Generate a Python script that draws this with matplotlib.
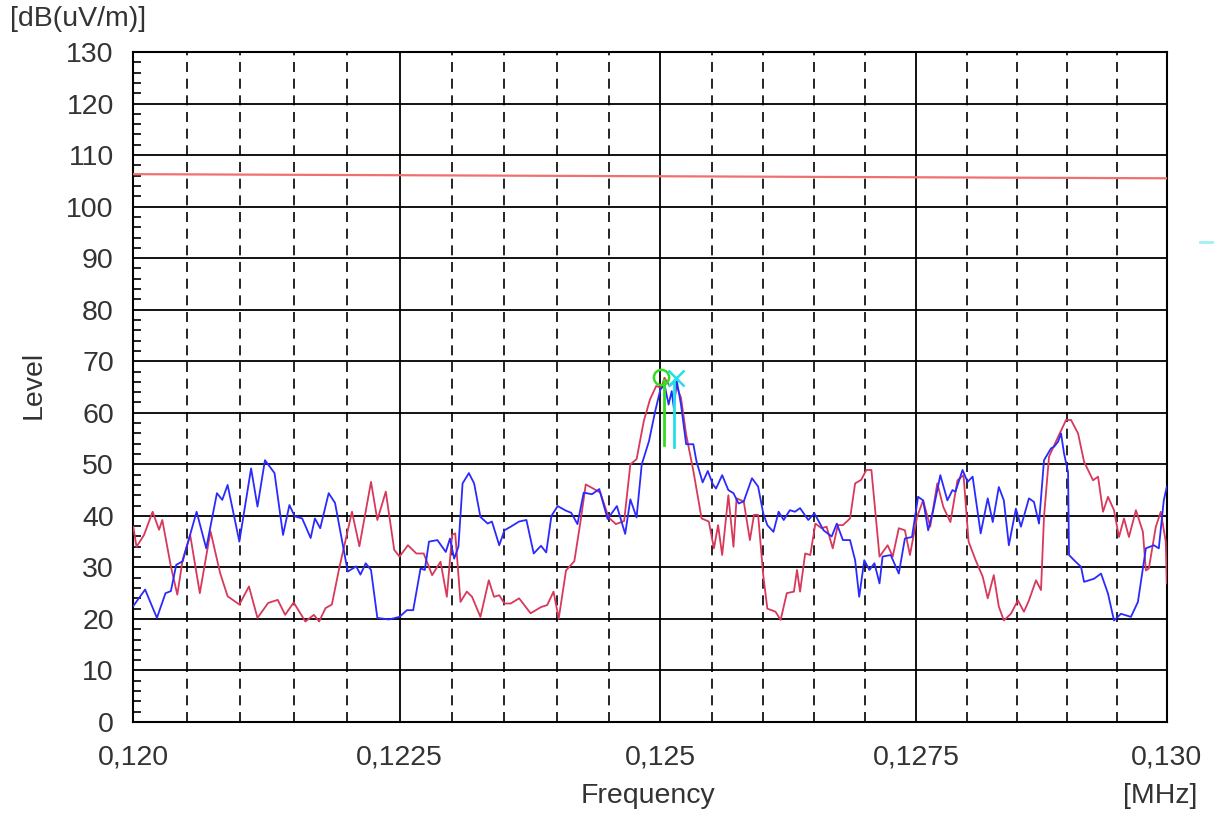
import matplotlib.pyplot as plt
from matplotlib.ticker import FixedLocator, NullFormatter
from matplotlib.lines import Line2D

# scan traces (MHz, dB(uV/m))
blue_freq = [0.12000, 0.12011, 0.12022, 0.12030, 0.12035, 0.12040, 0.12046, 0.12059, 0.12068, 0.12078,
             0.12083, 0.12088, 0.12099, 0.12110, 0.12116, 0.12123, 0.12132, 0.12140, 0.12146, 0.12151,
             0.12158, 0.12166, 0.12170, 0.12175, 0.12183, 0.12189, 0.12201, 0.12209, 0.12213, 0.12218,
             0.12223, 0.12229, 0.12240, 0.12250, 0.12257, 0.12263, 0.12270, 0.12274, 0.12278, 0.12286,
             0.12294, 0.12298, 0.12302, 0.12306, 0.12310, 0.12316, 0.12321, 0.12327, 0.12334, 0.12338,
             0.12345, 0.12350, 0.12356, 0.12364, 0.12371, 0.12378, 0.12385, 0.12390, 0.12395, 0.12401,
             0.12409, 0.12414, 0.12420, 0.12426, 0.12434, 0.12441, 0.12449, 0.12458, 0.12466, 0.12471,
             0.12477, 0.12482, 0.12489, 0.12495, 0.12500, 0.12504, 0.12508, 0.12511, 0.12513, 0.12516,
             0.12520, 0.12525, 0.12532, 0.12535, 0.12541, 0.12546, 0.12551, 0.12554, 0.12560, 0.12566,
             0.12571, 0.12576, 0.12581, 0.12589, 0.12595, 0.12600, 0.12604, 0.12610, 0.12615, 0.12620,
             0.12626, 0.12631, 0.12636, 0.12644, 0.12650, 0.12659, 0.12667, 0.12672, 0.12678, 0.12685,
             0.12690, 0.12694, 0.12699, 0.12704, 0.12709, 0.12714, 0.12717, 0.12725, 0.12733, 0.12739,
             0.12746, 0.12752, 0.12757, 0.12762, 0.12767, 0.12774, 0.12781, 0.12786, 0.12789, 0.12796,
             0.12801, 0.12806, 0.12814, 0.12821, 0.12826, 0.12832, 0.12837, 0.12842, 0.12849, 0.12854,
             0.12862, 0.12867, 0.12872, 0.12877, 0.12884, 0.12887, 0.12891, 0.12894, 0.12897, 0.12901,
             0.12902, 0.12907, 0.12914, 0.12917, 0.12927, 0.12934, 0.12941, 0.12947, 0.12954, 0.12964,
             0.12971, 0.12979, 0.12987, 0.12992, 0.12997, 0.13000]
blue_level = [22.5, 25.7, 20.2, 25.0, 25.4, 30.5, 31.2, 40.8, 33.7, 44.4,
              43.1, 46.0, 35.0, 49.2, 41.8, 50.8, 48.3, 36.3, 42.1, 39.9,
              39.5, 35.7, 39.5, 37.6, 44.4, 42.5, 29.2, 30.2, 28.6, 30.8,
              29.5, 20.2, 19.9, 20.4, 21.7, 21.7, 29.8, 29.5, 35.0, 35.3,
              33.0, 35.6, 31.7, 34.0, 46.3, 48.3, 46.3, 39.8, 38.5, 38.9,
              34.3, 37.2, 37.9, 38.9, 39.2, 32.7, 34.2, 32.9, 40.0, 41.9,
              41.0, 40.6, 38.4, 44.5, 44.2, 45.2, 39.4, 41.9, 36.5, 43.2,
              39.7, 50.0, 54.5, 60.3, 64.5, 65.5, 61.6, 64.2, 61.0, 66.1,
              61.6, 53.9, 53.9, 50.6, 46.5, 48.7, 46.1, 45.3, 47.9, 45.0,
              44.4, 42.4, 42.8, 47.3, 45.7, 40.5, 38.2, 36.9, 40.8, 39.2,
              41.1, 40.8, 41.5, 39.2, 40.5, 37.2, 36.0, 38.5, 35.3, 35.3,
              31.4, 24.3, 31.4, 29.5, 30.8, 26.9, 32.1, 32.4, 28.8, 35.6,
              35.9, 43.7, 43.0, 37.2, 41.1, 47.9, 43.0, 45.0, 44.7, 48.9,
              46.6, 47.6, 36.6, 43.4, 38.8, 45.6, 43.0, 34.3, 41.4, 37.9,
              43.4, 42.7, 38.5, 50.8, 53.1, 53.4, 54.4, 56.0, 52.1, 48.5,
              32.4, 31.4, 30.1, 27.2, 27.8, 28.8, 24.9, 19.7, 21.0, 20.4,
              23.3, 33.7, 34.3, 33.7, 43.0, 45.6]

red_freq = [0.12000, 0.12003, 0.12010, 0.12018, 0.12024, 0.12027, 0.12035, 0.12041, 0.12046, 0.12053,
            0.12062, 0.12072, 0.12081, 0.12088, 0.12099, 0.12108, 0.12116, 0.12126, 0.12135, 0.12142,
            0.12150, 0.12161, 0.12169, 0.12174, 0.12180, 0.12186, 0.12193, 0.12205, 0.12212, 0.12223,
            0.12229, 0.12237, 0.12245, 0.12250, 0.12258, 0.12266, 0.12273, 0.12281, 0.12289, 0.12295,
            0.12300, 0.12303, 0.12308, 0.12314, 0.12319, 0.12327, 0.12335, 0.12340, 0.12345, 0.12350,
            0.12356, 0.12364, 0.12375, 0.12385, 0.12391, 0.12397, 0.12402, 0.12409, 0.12417, 0.12423,
            0.12428, 0.12436, 0.12442, 0.12450, 0.12457, 0.12465, 0.12471, 0.12477, 0.12484, 0.12490,
            0.12496, 0.12501, 0.12504, 0.12509, 0.12514, 0.12520, 0.12525, 0.12532, 0.12540, 0.12547,
            0.12552, 0.12556, 0.12560, 0.12566, 0.12571, 0.12574, 0.12581, 0.12587, 0.12591, 0.12595,
            0.12600, 0.12604, 0.12612, 0.12617, 0.12623, 0.12630, 0.12633, 0.12636, 0.12641, 0.12646,
            0.12651, 0.12657, 0.12662, 0.12668, 0.12673, 0.12678, 0.12685, 0.12690, 0.12696, 0.12701,
            0.12706, 0.12714, 0.12722, 0.12727, 0.12733, 0.12739, 0.12744, 0.12751, 0.12757, 0.12764,
            0.12771, 0.12777, 0.12784, 0.12791, 0.12797, 0.12802, 0.12809, 0.12816, 0.12821, 0.12827,
            0.12832, 0.12837, 0.12844, 0.12851, 0.12857, 0.12862, 0.12869, 0.12874, 0.12877, 0.12882,
            0.12891, 0.12899, 0.12904, 0.12911, 0.12917, 0.12926, 0.12931, 0.12936, 0.12941, 0.12947,
            0.12952, 0.12957, 0.12962, 0.12969, 0.12976, 0.12979, 0.12982, 0.12989, 0.12994, 0.12999,
            0.13000]
red_level = [37.9, 34.0, 36.3, 40.8, 37.3, 39.2, 30.2, 24.7, 31.5, 36.3,
             25.0, 37.0, 28.9, 24.4, 22.8, 26.3, 20.2, 23.1, 23.7, 20.8,
             23.2, 19.5, 20.8, 19.5, 22.1, 22.8, 29.9, 40.8, 34.1, 46.6,
             39.2, 44.7, 33.4, 32.1, 34.3, 32.7, 32.7, 28.5, 31.1, 24.3,
             36.3, 36.6, 23.3, 25.3, 24.3, 20.4, 27.5, 24.3, 24.6, 23.0,
             23.0, 24.0, 21.1, 22.3, 22.7, 25.3, 20.1, 29.4, 31.2, 39.0,
             46.1, 45.2, 44.5, 39.7, 38.4, 39.0, 50.0, 51.0, 58.4, 62.6,
             65.2, 64.8, 66.8, 65.2, 66.1, 62.9, 55.8, 48.7, 39.5, 38.9,
             33.7, 38.2, 32.4, 44.0, 34.0, 43.4, 42.8, 35.3, 40.2, 40.2,
             28.5, 22.0, 21.4, 19.8, 25.0, 25.3, 29.5, 25.3, 32.7, 32.4,
             38.5, 37.6, 37.9, 33.7, 38.2, 38.2, 39.5, 46.3, 47.0, 48.9,
             48.9, 32.1, 34.3, 32.1, 37.6, 37.2, 32.4, 39.8, 43.0, 37.9,
             46.3, 41.7, 38.8, 46.9, 47.9, 35.0, 31.4, 28.2, 24.0, 28.5,
             22.4, 19.7, 21.0, 23.6, 21.4, 23.6, 27.5, 25.6, 39.8, 51.5,
             55.3, 58.6, 58.6, 56.0, 50.5, 46.9, 47.6, 40.8, 43.7, 41.1,
             35.9, 39.5, 35.9, 41.1, 36.9, 29.4, 29.8, 37.9, 40.8, 35.0,
             26.9]

# limit line
limit_freq = [0.120, 0.130]
limit_level = [106.3, 105.5]

# peak markers
green_freq = 0.125035
green_top = 66.4
green_bottom = 53.7
cyan_freq = 0.125133
cyan_top = 66.2
cyan_bottom = 53.4

major_x = [0.120, 0.1225, 0.125, 0.1275, 0.130]
major_x_labels = ['0,120', '0,1225', '0,125', '0,1275', '0,130']
minor_x = [0.1205, 0.121, 0.1215, 0.122, 0.123, 0.1235, 0.124, 0.1245,
           0.1255, 0.126, 0.1265, 0.127, 0.128, 0.1285, 0.129, 0.1295]
y_ticks = list(range(0, 131, 10))

plt.rcParams['font.family'] = ['Liberation Sans', 'DejaVu Sans']
txt = '#333333'
fs = 20.5

fig = plt.figure(figsize=(12.16, 8.14), dpi=100)
ax = fig.add_axes([0.1096, 0.1130, 0.8499, 0.8231])

ax.set_xscale('log')
ax.set_xlim(0.120, 0.130)
ax.set_ylim(0, 130)

ax.xaxis.set_major_locator(FixedLocator(major_x))
ax.xaxis.set_minor_locator(FixedLocator(minor_x))
ax.xaxis.set_minor_formatter(NullFormatter())
ax.set_xticklabels(major_x_labels)
ax.set_yticks(y_ticks)
ax.yaxis.set_minor_locator(FixedLocator([v for v in range(0, 131, 2) if v % 10]))

ax.grid(True, which='major', color='black', linewidth=1.3, zorder=1)
ax.grid(True, which='minor', axis='x', color='black', linewidth=1.2,
        linestyle=(0, (6, 4)), zorder=1)
ax.set_axisbelow(True)

ax.tick_params(axis='both', which='major', length=0, labelsize=fs, labelcolor=txt)
ax.tick_params(axis='y', which='major', pad=14)
ax.tick_params(axis='x', which='major', pad=16)
ax.tick_params(axis='x', which='minor', length=0)
ax.tick_params(axis='y', which='minor', direction='in', length=6, width=1.2, color='black')
for s in ax.spines.values():
    s.set_linewidth(1.5)
    s.set_color('black')

ax.plot(limit_freq, limit_level, color='#f07070', linewidth=1.6, zorder=3)
ax.plot(red_freq, red_level, color='#d8385a', linewidth=1.3, zorder=4)
ax.plot(blue_freq, blue_level, color='#2a2aff', linewidth=1.3, zorder=5)

ax.plot([green_freq, green_freq], [green_bottom, green_top], color='#33dd22', linewidth=2, zorder=6)
ax.plot([cyan_freq, cyan_freq], [cyan_bottom, cyan_top], color='#22e0e8', linewidth=2, zorder=6)
ax.plot([0.125010], [67.0], marker='o', markersize=11, markerfacecolor='none',
        markeredgecolor='#33dd22', markeredgewidth=1.8, zorder=7)
ax.plot([0.125150], [66.7], marker='x', markersize=11, markeredgecolor='#22e0e8',
        markeredgewidth=1.8, zorder=7)

fig.text(0.008, 0.977, '[dB(uV/m)]', fontsize=fs, color=txt, ha='left', va='center')
fig.text(0.028, 0.527, 'Level', fontsize=fs, color=txt, rotation=90, ha='center', va='center')
fig.text(0.533, 0.022, 'Frequency', fontsize=fs, color=txt, ha='center', va='center')
fig.text(0.954, 0.022, '[MHz]', fontsize=fs, color=txt, ha='center', va='center')

# small cyan tick at the right border, outside the plot
fig.add_artist(Line2D([0.987, 0.997], [0.703, 0.703], color='#a0f0f8', linewidth=2))

fig.savefig('out.png', dpi=100, facecolor='white')
